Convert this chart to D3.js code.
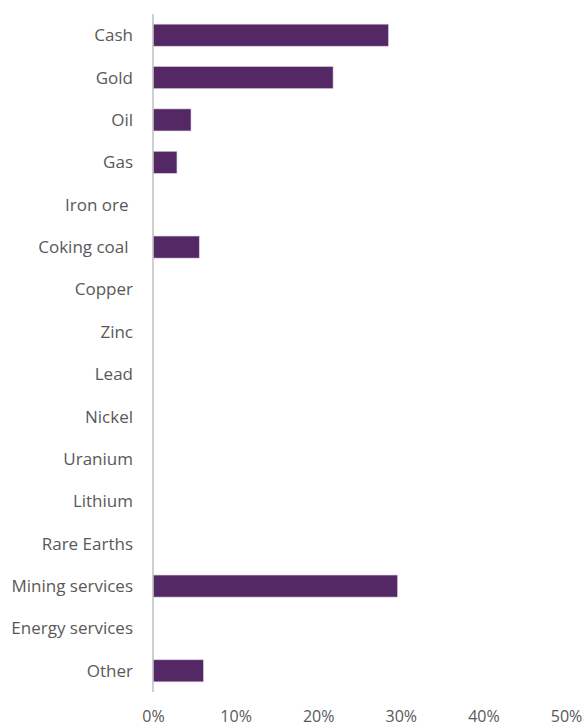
<!DOCTYPE html>
<html>
<head>
<meta charset="utf-8">
<script src="https://cdn.jsdelivr.net/npm/d3@7"></script>
<style>
body { margin: 0; background: #fff; }
text { font-family: "Open Sans", sans-serif; fill: #595959; white-space: pre; }
</style>
</head>
<body>
<div id="chart"></div>
<script>
// categories top to bottom (two labels carry a trailing space in the original)
var categories = ['Cash', 'Gold', 'Oil', 'Gas', 'Iron ore ', 'Coking coal ', 'Copper', 'Zinc',
	'Lead', 'Nickel', 'Uranium', 'Lithium', 'Rare Earths', 'Mining services', 'Energy services', 'Other'];
// share of portfolio, in %
var values = [28.5, 21.8, 4.6, 2.9, 0, 5.6, 0, 0, 0, 0, 0, 0, 0, 29.6, 0, 6.1];
var ticks = [0, 10, 20, 30, 40, 50];

var width = 583, height = 726;
var margin = { top: 14, right: 17, bottom: 34, left: 153 };

var svg = d3.select('#chart').append('svg')
	.attr('width', width)
	.attr('height', height);

var x = d3.scaleLinear()
	.domain([0, 50])
	.range([margin.left, width - margin.right]);

var y = d3.scaleBand()
	.domain(categories)
	.range([margin.top, height - margin.bottom])
	.paddingInner(0.48)
	.paddingOuter(0.24);

// bars
svg.append('g')
	.selectAll('rect')
	.data(categories)
	.enter().append('rect')
		.attr('x', x(0))
		.attr('y', function(d) { return y(d); })
		.attr('width', function(d, i) { return x(values[i]) - x(0); })
		.attr('height', y.bandwidth())
		.style('fill', '#532864')
		.style('stroke', '#d9c8e0')
		.style('stroke-width', 0.6);

// category labels
var yAxis = d3.axisLeft(y).tickSize(0).tickPadding(20);
var yG = svg.append('g')
	.attr('transform', 'translate(' + x(0) + ',0)')
	.call(yAxis);
yG.select('.domain').remove();
yG.selectAll('text')
	.style('font-size', '17px')
	.attr('dy', '0.35em');

// vertical axis line
svg.append('line')
	.attr('x1', x(0)).attr('x2', x(0))
	.attr('y1', margin.top).attr('y2', height - margin.bottom)
	.style('stroke', '#bfbfbf')
	.style('stroke-width', 1.5);

// bottom tick labels, no line
var xAxis = d3.axisBottom(x)
	.tickValues(ticks)
	.tickSize(0)
	.tickFormat(function(d) { return d + '%'; });
var xG = svg.append('g')
	.attr('transform', 'translate(0,' + (height - margin.bottom) + ')')
	.call(xAxis);
xG.select('.domain').remove();
xG.selectAll('text')
	.attr('y', 19)
	.style('font-size', '16px');
</script>
</body>
</html>
